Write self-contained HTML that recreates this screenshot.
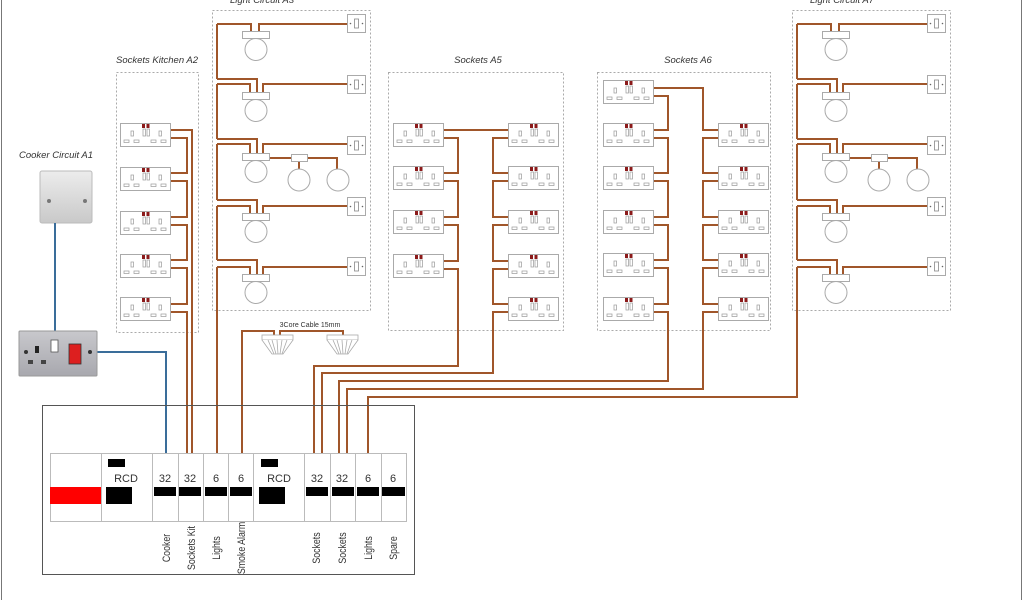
<!DOCTYPE html>
<html><head><meta charset="utf-8"><style>
html,body{margin:0;padding:0;background:#fff;}
svg{display:block;}
.t{font-family:"Liberation Sans Narrow","Liberation Sans",sans-serif;fill:#333;}
.ti{font-family:"Liberation Sans Narrow","Liberation Sans",sans-serif;font-style:italic;fill:#333;font-size:9.5px;}
.w{fill:none;stroke:#a0562a;stroke-width:2;}
.b{fill:none;stroke:#3a6d9a;stroke-width:2;}
.box{fill:none;stroke:#aaa;stroke-width:1;stroke-dasharray:2,2;}
</style></head><body>
<svg width="1024" height="600" viewBox="0 0 1024 600" xmlns="http://www.w3.org/2000/svg">
<defs>
<g id="sk">
<rect x="0.5" y="0.5" width="50" height="23" fill="#fff" stroke="#aaa"/>
<rect x="22" y="1" width="3" height="4" fill="#8b1a1a"/><rect x="26.5" y="1" width="3" height="4" fill="#8b1a1a"/>
<rect x="11" y="8" width="2.5" height="5" fill="none" stroke="#999" stroke-width="0.7"/>
<rect x="23" y="6" width="2.5" height="7" fill="none" stroke="#999" stroke-width="0.7"/>
<rect x="27" y="6" width="2.5" height="7" fill="none" stroke="#999" stroke-width="0.7"/>
<rect x="39" y="8" width="2.5" height="5" fill="none" stroke="#999" stroke-width="0.7"/>
<rect x="4" y="17" width="5" height="2.5" fill="none" stroke="#999" stroke-width="0.7"/>
<rect x="14" y="17" width="5" height="2.5" fill="none" stroke="#999" stroke-width="0.7"/>
<rect x="31" y="17" width="5" height="2.5" fill="none" stroke="#999" stroke-width="0.7"/>
<rect x="41" y="17" width="5" height="2.5" fill="none" stroke="#999" stroke-width="0.7"/>
</g>
<g id="sw">
<rect x="0.5" y="0.5" width="18" height="18" fill="#fff" stroke="#aaa"/>
<rect x="7.5" y="5" width="4" height="9" fill="none" stroke="#888" stroke-width="0.8"/>
<circle cx="3.5" cy="9.5" r="0.8" fill="#666"/><circle cx="15.5" cy="9.5" r="0.8" fill="#666"/>
</g>
<g id="lamp">
<rect x="0.5" y="0.5" width="27" height="7" fill="#fff" stroke="#aaa"/>
<circle cx="14" cy="18.5" r="11" fill="#fff" stroke="#aaa"/>
</g>
<g id="lc">
<rect class="box" x="792.5" y="10.5" width="158" height="300"/>
<path class="w" d="M797,24 V79 M797,84 V139 M797,144 V200 M797,206 V260"/>
<path class="w" d="M797,24 H831 V32 M839,32 V24 H928"/>
<path class="w" d="M797,79 H837 V93 M797,84 H830 V93 M843,93 V84 H928"/>
<path class="w" d="M797,139 H837 V154 M797,144 H830 V154 M843,154 V144 H928"/>
<path class="w" d="M850,158 H871 M879,161 V169 M887,158 H917 V169"/>
<path class="w" d="M797,200 H837 V214 M797,206 H830 V214 M843,214 V206 H928"/>
<path class="w" d="M797,260 H837 V275 M797,267 H830 V275 M843,275 V267 H928"/>
<use href="#lamp" x="822" y="31"/><use href="#lamp" x="822" y="92"/><use href="#lamp" x="822" y="153"/>
<use href="#lamp" x="822" y="213"/><use href="#lamp" x="822" y="274"/>
<rect x="871.5" y="154.5" width="16" height="7" fill="#fff" stroke="#aaa"/>
<circle cx="879" cy="180" r="11" fill="#fff" stroke="#aaa"/><circle cx="918" cy="180" r="11" fill="#fff" stroke="#aaa"/>
<use href="#sw" x="927" y="14"/><use href="#sw" x="927" y="75"/><use href="#sw" x="927" y="136"/>
<use href="#sw" x="927" y="197"/><use href="#sw" x="927" y="257"/>
</g>
</defs>

<line x1="1.5" y1="0" x2="1.5" y2="600" stroke="#777"/>
<line x1="1021.5" y1="0" x2="1021.5" y2="600" stroke="#777"/>

<use href="#lc"/>
<use href="#lc" transform="translate(-580,0)"/>
<text class="ti" x="842" y="3" text-anchor="middle">Light Circuit A7</text>
<text class="ti" x="262" y="3" text-anchor="middle">Light Circuit A3</text>
<path class="w" d="M217,267 V453"/>
<path class="w" d="M797,267 V397 H368 V453"/>

<rect class="box" x="116.5" y="72.5" width="82" height="260"/>
<text class="ti" x="157" y="63" text-anchor="middle">Sockets Kitchen A2</text>
<path class="w" d="M171,130 H192 V453 M171,138 H187 V173 H171 M171,181 H187 V217 H171 M171,225 H187 V260 H171 M171,268 H187 V304 H171 M171,312 H187 V453"/>
<use href="#sk" x="120" y="123"/><use href="#sk" x="120" y="167"/><use href="#sk" x="120" y="211"/><use href="#sk" x="120" y="254"/><use href="#sk" x="120" y="297"/>

<rect class="box" x="388.5" y="72.5" width="175" height="258"/>
<text class="ti" x="478" y="63" text-anchor="middle">Sockets A5</text>
<path class="w" d="M443,130 H508 M443,138 H458 V173 H443 M443,181 H458 V217 H443 M443,225 H458 V261 H443 M443,269 H458 V366 H314 V453"/>
<path class="w" d="M508,138 H493 V173 H508 M508,181 H493 V217 H508 M508,225 H493 V261 H508 M508,269 H493 V304 H508 M508,312 H493 V373 H322 V453"/>
<use href="#sk" x="393" y="123"/><use href="#sk" x="393" y="166"/><use href="#sk" x="393" y="210"/><use href="#sk" x="393" y="254"/>
<use href="#sk" x="508" y="123"/><use href="#sk" x="508" y="166"/><use href="#sk" x="508" y="210"/><use href="#sk" x="508" y="254"/><use href="#sk" x="508" y="297"/>

<rect class="box" x="597.5" y="72.5" width="173" height="258"/>
<text class="ti" x="688" y="63" text-anchor="middle">Sockets A6</text>
<path class="w" d="M653,88 H703 V130 H718 M653,96 H668 V130 H653 M653,138 H668 V173 H653 M653,181 H668 V217 H653 M653,225 H668 V260 H653 M653,268 H668 V304 H653 M653,312 H668 V381 H339 V453"/>
<path class="w" d="M718,138 H703 V173 H718 M718,181 H703 V217 H718 M718,225 H703 V260 H718 M718,268 H703 V304 H718 M718,312 H703 V389 H347 V453"/>
<use href="#sk" x="603" y="80"/><use href="#sk" x="603" y="123"/><use href="#sk" x="603" y="166"/><use href="#sk" x="603" y="210"/><use href="#sk" x="603" y="253"/><use href="#sk" x="603" y="297"/>
<use href="#sk" x="718" y="123"/><use href="#sk" x="718" y="166"/><use href="#sk" x="718" y="210"/><use href="#sk" x="718" y="253"/><use href="#sk" x="718" y="297"/>

<text class="t" x="310" y="327" text-anchor="middle" font-size="7">3Core Cable 15mm</text>
<path class="w" d="M242,453 V331 H274 V335 M280,335 V331 H343 V335"/>
<g fill="#fff" stroke="#aaa" stroke-width="0.8">
<rect x="262" y="335" width="31" height="5"/><path d="M262,340 L272,354 H283 L293,340"/>
<path d="M268,340 L274,354 M272,340 L276,354 M277,340 L278,354 M282,340 L280,354 M287,340 L282,354" fill="none"/>
<rect x="327" y="335" width="31" height="5"/><path d="M327,340 L337,354 H348 L358,340"/>
<path d="M333,340 L339,354 M337,340 L341,354 M342,340 L343,354 M347,340 L345,354 M352,340 L347,354" fill="none"/>
</g>

<text class="ti" x="56" y="158" text-anchor="middle">Cooker Circuit A1</text>
<defs><linearGradient id="g1" x1="0" y1="0" x2="0" y2="1"><stop offset="0" stop-color="#ececec"/><stop offset="1" stop-color="#c9c9c9"/></linearGradient>
<linearGradient id="g2" x1="0" y1="0" x2="0" y2="1"><stop offset="0" stop-color="#c8c8cc"/><stop offset="1" stop-color="#a8a8ae"/></linearGradient></defs>
<rect x="40" y="171" width="52" height="52" rx="2" fill="url(#g1)" stroke="#bbb"/>
<circle cx="49" cy="201" r="2" fill="#777"/><circle cx="85" cy="201" r="2" fill="#777"/>
<path class="b" d="M55,223 V331 M97,352 H166 V453"/>
<rect x="19" y="331" width="78" height="45" rx="1" fill="url(#g2)" stroke="#999"/>
<circle cx="26" cy="352" r="2" fill="#333"/><circle cx="90" cy="352" r="2" fill="#333"/>
<rect x="35" y="346" width="4" height="7" fill="#222"/>
<rect x="51" y="340" width="7" height="12" fill="#fff" stroke="#555" stroke-width="0.8"/>
<rect x="69" y="344" width="12" height="20" fill="#dd1f1f" stroke="#333" stroke-width="0.8"/>
<rect x="28" y="360" width="5" height="4" fill="#444"/><rect x="41" y="360" width="5" height="4" fill="#444"/>

<rect x="42.5" y="405.5" width="372" height="169" fill="none" stroke="#555"/>
<rect x="50.5" y="453.5" width="356" height="68" fill="#fff" stroke="#bbb"/>
<g stroke="#bbb"><line x1="101.5" y1="453" x2="101.5" y2="521"/><line x1="152.5" y1="453" x2="152.5" y2="521"/><line x1="178.5" y1="453" x2="178.5" y2="521"/><line x1="203.5" y1="453" x2="203.5" y2="521"/><line x1="228.5" y1="453" x2="228.5" y2="521"/><line x1="253.5" y1="453" x2="253.5" y2="521"/><line x1="304.5" y1="453" x2="304.5" y2="521"/><line x1="330.5" y1="453" x2="330.5" y2="521"/><line x1="355.5" y1="453" x2="355.5" y2="521"/><line x1="381.5" y1="453" x2="381.5" y2="521"/></g>
<rect x="50" y="487" width="51" height="17" fill="#f00"/>
<rect x="108" y="459" width="17" height="8" fill="#000"/><rect x="106" y="487" width="26" height="17" fill="#000"/>
<rect x="261" y="459" width="17" height="8" fill="#000"/><rect x="259" y="487" width="26" height="17" fill="#000"/>
<g fill="#000"><rect x="154" y="487" width="22" height="9"/><rect x="179" y="487" width="22" height="9"/><rect x="205" y="487" width="22" height="9"/><rect x="230" y="487" width="22" height="9"/><rect x="306" y="487" width="22" height="9"/><rect x="332" y="487" width="22" height="9"/><rect x="357" y="487" width="22" height="9"/><rect x="382" y="487" width="23" height="9"/></g>
<g class="t" font-size="11" text-anchor="middle">
<text x="126" y="482">RCD</text><text x="279" y="482">RCD</text>
<text x="165" y="482">32</text><text x="190" y="482">32</text><text x="216" y="482">6</text><text x="241" y="482">6</text>
<text x="317" y="482">32</text><text x="342" y="482">32</text><text x="368" y="482">6</text><text x="393" y="482">6</text>
<text transform="translate(170,548) rotate(-90) scale(0.8,1)">Cooker</text>
<text transform="translate(195,548) rotate(-90) scale(0.8,1)">Sockets Kit</text>
<text transform="translate(220,548) rotate(-90) scale(0.8,1)">Lights</text>
<text transform="translate(245,548) rotate(-90) scale(0.8,1)">Smoke Alarm</text>
<text transform="translate(320,548) rotate(-90) scale(0.8,1)">Sockets</text>
<text transform="translate(346,548) rotate(-90) scale(0.8,1)">Sockets</text>
<text transform="translate(372,548) rotate(-90) scale(0.8,1)">Lights</text>
<text transform="translate(397,548) rotate(-90) scale(0.8,1)">Spare</text>
</g>
</svg>
</body></html>
